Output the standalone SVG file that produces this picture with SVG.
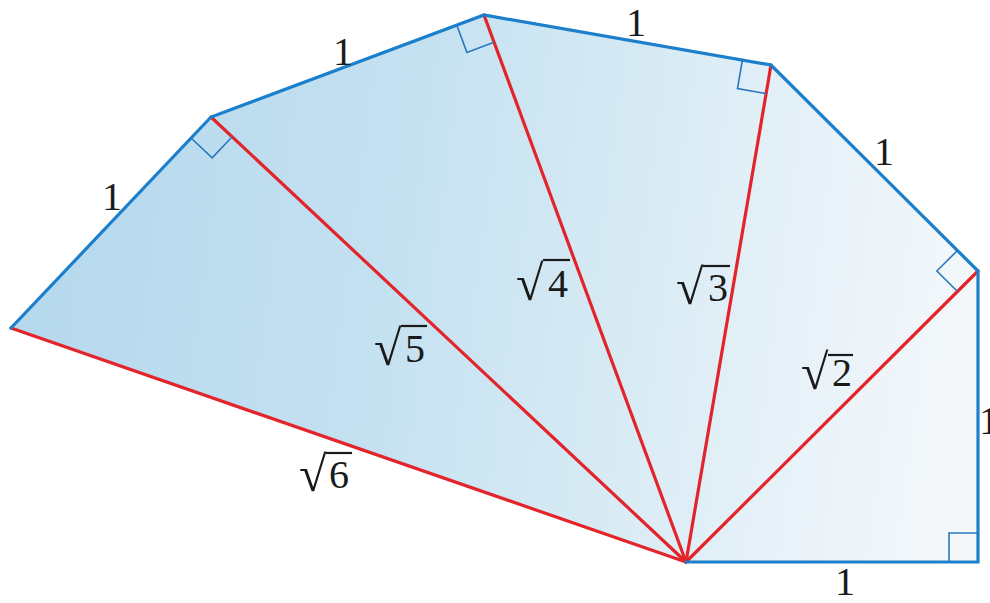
<svg xmlns="http://www.w3.org/2000/svg" width="990" height="603" viewBox="0 0 990 603">
<defs>
<linearGradient id="fanFill" gradientUnits="userSpaceOnUse" x1="60" y1="300" x2="960" y2="420">
<stop offset="0" stop-color="#b7d9ee"/>
<stop offset="0.35" stop-color="#c4e1f1"/>
<stop offset="0.6" stop-color="#d6eaf4"/>
<stop offset="0.8" stop-color="#e6f1f8"/>
<stop offset="1" stop-color="#f4f8fb"/>
</linearGradient>
<style>
.blue{fill:none;stroke:#1b7fcc;stroke-width:3.2;stroke-linejoin:miter;stroke-linecap:round}
.red{fill:none;stroke:#e3242b;stroke-width:3.2;stroke-linecap:round}
.ra{fill:none;stroke:#2a78bd;stroke-width:1.6}
.lbl{font-family:"Liberation Serif","DejaVu Serif",serif;font-size:40px;fill:#1a1a1a}
.rad{font-family:"Liberation Serif","DejaVu Serif",serif;font-size:50px;fill:#1a1a1a}
.bar{stroke:#1a1a1a;stroke-width:2.2}
</style>
</defs>
<rect width="990" height="603" fill="#ffffff"/>
<g id="fan">
<polygon points="686,562 978,562 978,271 771,65 484,15 211,117 11,328" fill="url(#fanFill)"/>
</g>
<g id="connectors">
<line class="red" x1="686" y1="562" x2="978" y2="271"/>
<line class="red" x1="686" y1="562" x2="771" y2="65"/>
<line class="red" x1="686" y1="562" x2="484" y2="15"/>
<line class="red" x1="686" y1="562" x2="211" y2="117"/>
<line class="red" x1="686" y1="562" x2="11" y2="328"/>
<polyline class="blue" points="686,562 978,562 978,271 771,65 484,15 211,117 11,328"/>
</g>
<g id="right-angles">
<polyline class="ra" points="949,562 949,533 978,533"/>
<polyline class="ra" points="957.5,291.5 936.9,271 957.4,250.5"/>
<polyline class="ra" points="766.1,93.6 737.5,88.6 742.4,60"/>
<polyline class="ra" points="494,42.2 466.9,52.4 456.8,25.2"/>
<polyline class="ra" points="232.2,136.8 212.2,157.9 191,138"/>
</g>
<g id="labels">
<text class="lbl" x="845" y="595" text-anchor="middle">1</text>
<text class="lbl" x="979" y="434">1</text>
<text class="lbl" x="884" y="165" text-anchor="middle">1</text>
<text class="lbl" x="636" y="36" text-anchor="middle">1</text>
<text class="lbl" x="343" y="65" text-anchor="middle">1</text>
<text class="lbl" x="112" y="210" text-anchor="middle">1</text>
<g id="sqrt2"><text class="rad" x="801" y="389">√</text><text class="lbl" x="832" y="386">2</text><line class="bar" x1="828" y1="355" x2="853" y2="355"/></g>
<g id="sqrt3"><text class="rad" x="676" y="304">√</text><text class="lbl" x="708" y="301">3</text><line class="bar" x1="703" y1="266" x2="730" y2="266"/></g>
<g id="sqrt4"><text class="rad" x="516" y="300">√</text><text class="lbl" x="548" y="297">4</text><line class="bar" x1="543" y1="260" x2="570" y2="260"/></g>
<g id="sqrt5"><text class="rad" x="374" y="365">√</text><text class="lbl" x="405" y="362">5</text><line class="bar" x1="401" y1="326" x2="427" y2="326"/></g>
<g id="sqrt6"><text class="rad" x="299" y="491">√</text><text class="lbl" x="329" y="488">6</text><line class="bar" x1="326" y1="453" x2="352" y2="453"/></g>
</g>
</svg>
